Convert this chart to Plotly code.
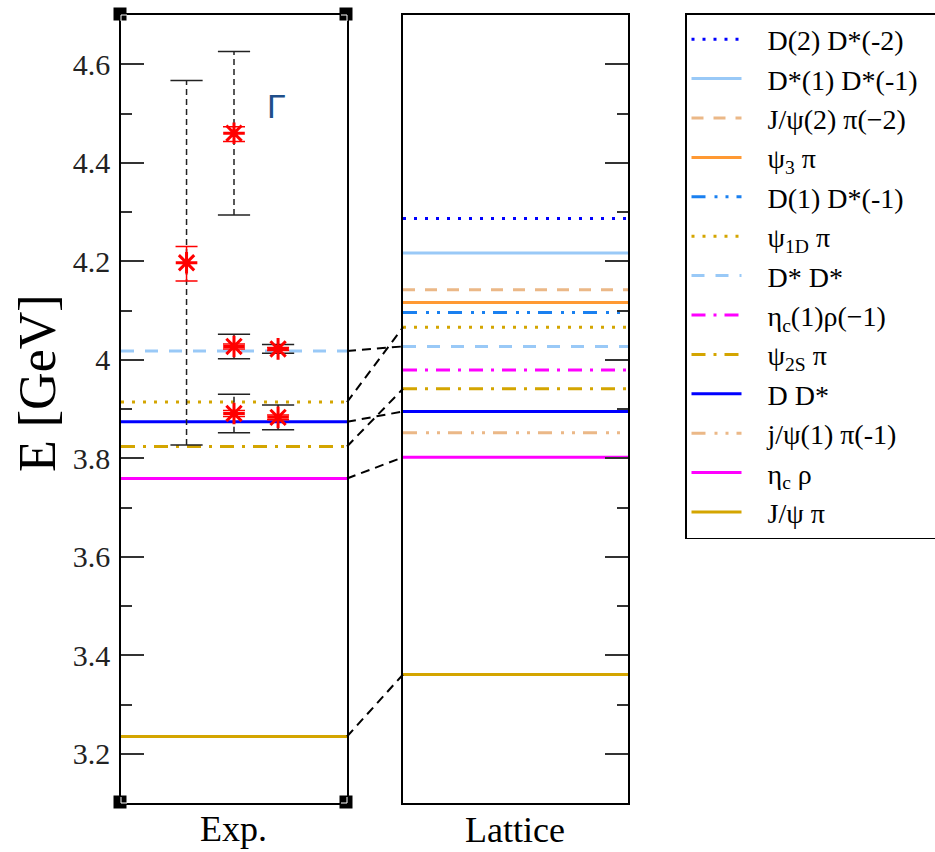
import plotly.graph_objects as go

# ---------------- data ----------------
# Lattice energy levels (GeV), top to bottom (legend order)
lat_names = ["D(2) D*(-2)", "D*(1) D*(-1)", "J/ψ(2) π(−2)", "ψ<sub>3</sub> π",
             "D(1) D*(-1)", "ψ<sub>1D</sub> π", "D* D*", "η<sub>c</sub>(1)ρ(−1)",
             "ψ<sub>2S</sub> π", "D D*", "j/ψ(1) π(-1)", "η<sub>c</sub> ρ", "J/ψ π"]
lat_E = [4.287, 4.217, 4.142, 4.116, 4.096, 4.066, 4.027, 3.979,
         3.941, 3.895, 3.852, 3.802, 3.361]
lat_color = ["#0000ff", "#99c9f7", "#ebb887", "#ff9933", "#1a80f0", "#d4a500",
             "#99c9f7", "#ff00ff", "#d4a500", "#0000ff", "#ebb887", "#ff00ff", "#d4a500"]
lat_dash = ["3px,8px", "solid", "12px,10px", "solid", "14px,9px,3px,8px,3px,8px",
            "3px,8px", "13px,11px", "14px,8px,3px,8px", "14px,8px,3px,8px", "solid",
            "14px,9px,3px,8px,3px,8px", "solid", "solid"]

# Experimental thresholds (GeV) and the matching lattice level index
exp_names = ["D* D*", "ψ<sub>1D</sub> π", "D D*", "ψ<sub>2S</sub> π", "η<sub>c</sub> ρ", "J/ψ π"]
exp_E = [4.018, 3.914, 3.874, 3.824, 3.759, 3.235]
exp_match = [6, 5, 9, 8, 11, 12]

# Experimental resonances: column position, mass, mass errors, half width Γ
res_x = [0.29, 0.50, 0.50, 0.695, 0.50, 0.695]
res_m = [4.197, 4.460, 4.027, 4.022, 3.891, 3.883]
res_err_up = [0.033, 0.013, 0.005, 0.003, 0.006, 0.005]
res_err_dn = [0.037, 0.017, 0.005, 0.003, 0.006, 0.005]
res_gamma = [0.370, 0.166, 0.025, 0.009, 0.039, 0.025]

y_tickvals = [3.2, 3.4, 3.6, 3.8, 4.0, 4.2, 4.4, 4.6]
y_ticktext = ["3.2", "3.4", "3.6", "3.8", "4", "4.2", "4.4", "4.6"]
y_minor = [3.3, 3.5, 3.7, 3.9, 4.1, 4.3, 4.5]
y_range = [3.1, 4.7]

# ---------------- layout geometry (pixels) ----------------
W, H = 935, 852
def px(x): return x / W
def py(y): return 1 - y / H

dom_exp = [px(121), px(347)]
dom_lat = [px(403), px(628)]
dom_y = [py(803), py(15)]

SERIF = "Liberation Serif, Times New Roman, serif"
PAD = "\u00a0\u00a0\u00a0"   # gap between legend sample and label
TAIL = "\u00a0\u00a0"        # extra room on the right of the legend box

fig = go.Figure()

# Lattice levels (these carry the legend)
for name, e, c, d in zip(lat_names, lat_E, lat_color, lat_dash):
    fig.add_trace(go.Scatter(x=[0, 1], y=[e, e], mode="lines",
                             name=PAD + name + TAIL,
                             line=dict(color=c, width=3, dash=d),
                             xaxis="x2", yaxis="y2"))

# Experimental thresholds
for i, e in enumerate(exp_E):
    j = exp_match[i]
    fig.add_trace(go.Scatter(x=[0, 1], y=[e, e], mode="lines", showlegend=False,
                             name=exp_names[i],
                             line=dict(color=lat_color[j], width=3, dash=lat_dash[j]),
                             xaxis="x", yaxis="y"))

# Widths of the resonances: dashed bars with caps
gx, gy, cx, cy = [], [], [], []
for x, m, g in zip(res_x, res_m, res_gamma):
    gx += [x, x, None]
    gy += [m - g, m + g, None]
    cx += [x, x]
    cy += [m - g, m + g]
fig.add_trace(go.Scatter(x=gx, y=gy, mode="lines", showlegend=False,
                         line=dict(color="#222", width=1.5, dash="6px,4px"),
                         xaxis="x", yaxis="y"))
fig.add_trace(go.Scatter(x=cx, y=cy, mode="markers", showlegend=False,
                         marker=dict(symbol="line-ew", size=23,
                                     line=dict(color="#222", width=1.5)),
                         xaxis="x", yaxis="y"))

# Masses with errors
fig.add_trace(go.Scatter(x=res_x, y=res_m, mode="markers", showlegend=False,
                         marker=dict(symbol="asterisk", size=18, color="red",
                                     line=dict(color="red", width=3)),
                         error_y=dict(type="data", symmetric=False, array=res_err_up,
                                      arrayminus=res_err_dn, color="red",
                                      thickness=1.5, width=11),
                         xaxis="x", yaxis="y"))

# Dashed connectors between matching levels
shapes = []
for i, e in enumerate(exp_E):
    shapes.append(dict(type="line", xref="paper", yref="y",
                       x0=dom_exp[1], x1=dom_lat[0], y0=e, y1=lat_E[exp_match[i]],
                       line=dict(color="black", width=2, dash="9px,6px")))

# Corner marks of the experimental panel
s = 6.5
for (xc, yc) in [(121, 15), (347, 15), (121, 803), (347, 803)]:
    shapes.append(dict(type="rect", xref="paper", yref="paper",
                       x0=px(xc - 1 - s), x1=px(xc - 1 + s),
                       y0=py(yc - 1 + s), y1=py(yc - 1 - s),
                       fillcolor="black", line=dict(width=0), layer="above"))
    sx = 1 if xc < 200 else -1
    sy = 1 if yc < 400 else -1
    shapes.append(dict(type="line", xref="paper", yref="paper",
                       x0=px(xc), x1=px(xc + sx * 6), y0=py(yc), y1=py(yc),
                       line=dict(color="white", width=1), layer="above"))
    shapes.append(dict(type="line", xref="paper", yref="paper",
                       x0=px(xc), x1=px(xc), y0=py(yc), y1=py(yc + sy * 6),
                       line=dict(color="white", width=1), layer="above"))

axis_x = dict(range=[0, 1], showline=True, mirror=True, linecolor="black",
              linewidth=1.5, showticklabels=False, ticks="", showgrid=False,
              zeroline=False)
axis_y = dict(range=y_range, showline=True, mirror=True, linecolor="black",
              linewidth=1.5, showgrid=False, zeroline=False, ticks="inside",
              ticklen=23, tickwidth=1.5, tickcolor="#333",
              tickmode="array", tickvals=y_tickvals, ticktext=y_ticktext,
              minor=dict(tickmode="array", tickvals=y_minor, ticks="inside",
                         ticklen=11, tickwidth=1.5, tickcolor="#333"),
              domain=dom_y)

fig.update_layout(
    template="none",
    font=dict(family=SERIF, size=28, color="black"),
    width=W, height=H,
    margin=dict(l=0, r=0, t=0, b=0, autoexpand=False),
    plot_bgcolor="white", paper_bgcolor="white",
    xaxis=dict(axis_x, domain=dom_exp, anchor="y"),
    yaxis=dict(axis_y, anchor="x", side="left", ticklabelstandoff=3,
               tickfont=dict(family=SERIF, size=30, color="#222")),
    xaxis2=dict(axis_x, domain=dom_lat, anchor="y2"),
    yaxis2=dict(axis_y, anchor="x2", side="right", showticklabels=False),
    shapes=shapes,
    showlegend=True,
    legend=dict(x=px(685), y=py(13), xanchor="left", yanchor="top",
                bordercolor="black", borderwidth=1.5, bgcolor="white",
                font=dict(family=SERIF, size=28, color="black"),
                itemwidth=50, tracegroupgap=0),
    annotations=[
        dict(text="E [GeV]", xref="paper", yref="paper", x=px(37), y=py(383),
             textangle=-90, showarrow=False, xanchor="center", yanchor="middle",
             font=dict(family=SERIF, size=52, color="black")),
        dict(text="Exp.", xref="paper", yref="paper", x=px(234), y=py(829),
             showarrow=False, xanchor="center", yanchor="middle",
             font=dict(family=SERIF, size=36, color="black")),
        dict(text="Lattice", xref="paper", yref="paper", x=px(515), y=py(830),
             showarrow=False, xanchor="center", yanchor="middle",
             font=dict(family=SERIF, size=36, color="black")),
        dict(text="Γ", xref="x", yref="y", x=0.69, y=4.515,
             showarrow=False, xanchor="center", yanchor="middle",
             font=dict(family="Liberation Sans, Arial, sans-serif", size=34,
                       color="#1f4f8a")),
    ],
)

fig.write_html("out.html")
